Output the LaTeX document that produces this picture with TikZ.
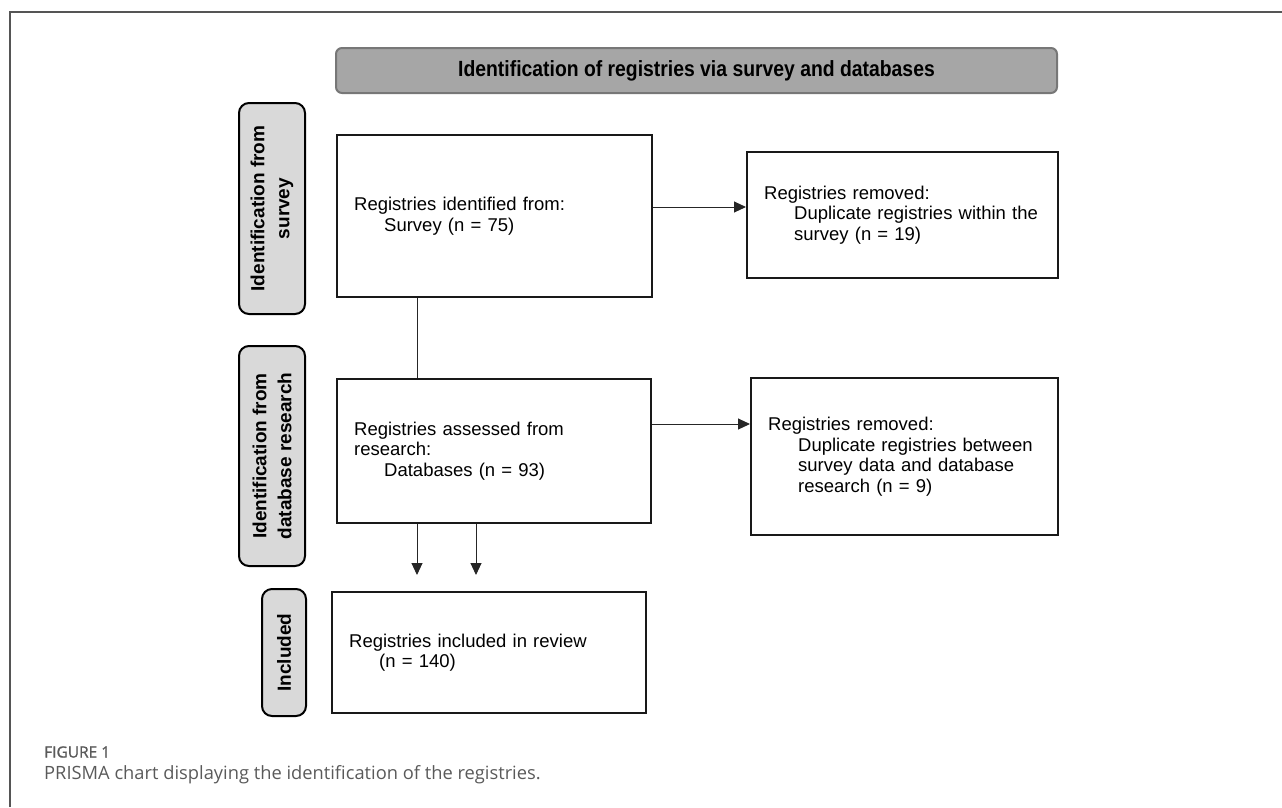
\documentclass[tikz,border=0pt]{standalone}
\usepackage{graphicx}
\usepackage{fontspec}
\setmainfont{Liberation Sans}
\newfontfamily\capfont{Open Sans}
\newfontfamily\capsemi[FakeBold=1.2]{Open Sans}
\usetikzlibrary{arrows.meta}
\definecolor{hdrfill}{HTML}{A6A6A6}
\definecolor{hdrline}{HTML}{777777}
\definecolor{lblfill}{HTML}{D9D9D9}
\definecolor{capgray}{HTML}{5A5A5A}
\definecolor{framegray}{HTML}{555555}
\begin{document}
\begin{tikzpicture}[x=1pt,y=-1pt,
  box/.style={draw=black!90, line width=2.4pt, inner xsep=17pt, inner ysep=0pt,
    align=left, anchor=north west, font=\fontsize{18.5}{20.5}\selectfont},
  sidelbl/.style={draw=black, line width=2pt, fill=lblfill, rounded corners=10pt,
    rotate=90, align=center, inner sep=0pt, font=\bfseries\fontsize{19}{25}\selectfont},
  header/.style={draw=hdrline, line width=2pt, fill=hdrfill, rounded corners=6pt,
    inner sep=0pt, font=\bfseries\fontsize{22}{24}\selectfont},
  conn/.style={draw=black!85, line width=1pt},
  arr/.style={conn, -{Triangle[length=12pt,width=11pt]}},
  captxt/.style={anchor=west, inner sep=0pt, text=capgray}
]
\useasboundingbox (0,0) rectangle (1282,807);
% outer frame
\draw[framegray, line width=1.5pt] (10,807) -- (10,12) -- (1282,12);

% header
\node[header, minimum width=721pt, minimum height=45pt] (hdr) at (696.5,70.5)
  {\scalebox{0.88}[1]{Identification of registries via survey and databases}};

% side labels
\node[sidelbl, minimum width=211pt, minimum height=66pt] (l1) at (272,208.5)
  {Identification from\\survey};
\node[sidelbl, minimum width=220pt, minimum height=66pt] (l2) at (272,456)
  {Identification from\\database research};
\node[sidelbl, minimum width=127pt, minimum height=44pt] (l3) at (284,652.5)
  {Included};

% boxes
\node[box, minimum width=315pt, minimum height=162pt, text width=281pt] (b1) at (336,134)
  {Registries identified from:\\\hspace*{30pt}Survey (n = 75)};
\node[box, minimum width=311pt, minimum height=126pt, text width=277pt] (b2) at (746,151)
  {Registries removed:\\\hspace*{30pt}Duplicate registries within the\\\hspace*{30pt}survey (n = 19)};
\node[box, minimum width=314pt, minimum height=144pt, text width=280pt] (b3) at (336,378)
  {Registries assessed from\\research:\\\hspace*{30pt}Databases (n = 93)};
\node[box, minimum width=307pt, minimum height=157pt, text width=273pt] (b4) at (750,377)
  {Registries removed:\\\hspace*{30pt}Duplicate registries between\\\hspace*{30pt}survey data and database\\\hspace*{30pt}research (n = 9)};
\node[box, minimum width=314pt, minimum height=121pt, text width=280pt] (b5) at (331,591)
  {Registries included in review\\\hspace*{30pt}(n = 140)};

% connectors
\coordinate (t1) at (417,575);
\coordinate (t2) at (476,575);
\draw[arr] (b1.east |- 0,207) -- (b2.west |- 0,207);
\draw[arr] (b3.east |- 0,424) -- (b4.west |- 0,424);
\draw[conn] (b1.south -| 417,0) -- (b3.north -| 417,0);
\draw[arr] (b3.south -| t1) -- (t1);
\draw[arr] (b3.south -| t2) -- (t2);

% caption
\node[captxt, font=\capsemi\fontsize{15.5}{18}\selectfont] (fig) at (44,752) {FIGURE 1};
\node[captxt, font=\capfont\fontsize{18.3}{22}\selectfont] (capt) at (44,775)
  {PRISMA chart displaying the identification of the registries.};
\end{tikzpicture}
\end{document}
